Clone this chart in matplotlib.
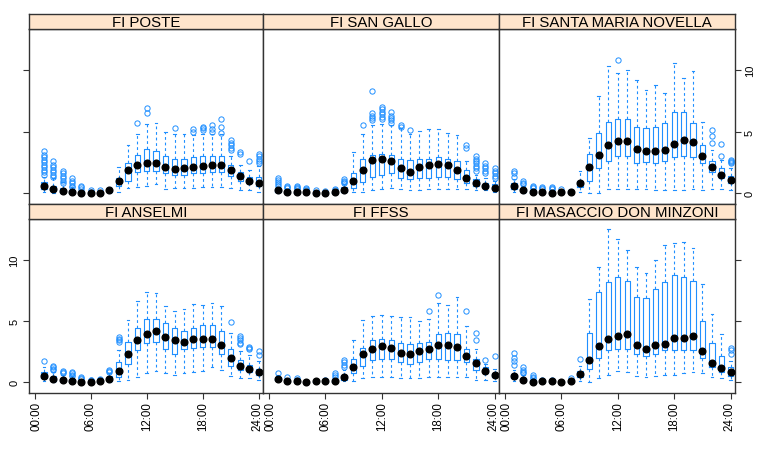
import matplotlib.pyplot as plt
import matplotlib.transforms as mtransforms

plt.rcParams['font.family'] = ['Liberation Sans', 'DejaVu Sans']

hours = list(range(1, 25))
xtick_pos = [0, 6, 12, 18, 24]
xtick_lab = ['00:00', '06:00', '12:00', '18:00', '24:00']
ytick_pos = [0, 5, 10]

names = ['FI POSTE', 'FI SAN GALLO', 'FI SANTA MARIA NOVELLA',
         'FI ANSELMI', 'FI FFSS', 'FI MASACCIO DON MINZONI']

# FI POSTE
poste_med = [0.55, 0.3, 0.18, 0.05, 0.03, 0.02, 0.03, 0.22, 1.0, 1.83, 2.24, 2.4, 2.4, 2.13, 1.97, 2.0, 2.1, 2.2, 2.24, 2.3, 1.83, 1.37, 1.0, 0.8]
poste_q1 = [0.33, 0.12, 0.06, 0.01, 0.0, 0.0, 0.0, 0.1, 0.6, 1.0, 1.7, 1.8, 1.8, 1.6, 1.5, 1.5, 1.6, 1.6, 1.7, 1.7, 1.4, 1.0, 0.8, 0.6]
poste_q3 = [0.93, 0.6, 0.4, 0.2, 0.12, 0.08, 0.1, 0.35, 1.25, 2.4, 3.1, 3.6, 3.4, 3.0, 2.8, 2.8, 2.9, 3.0, 3.0, 3.0, 2.3, 1.7, 1.3, 1.3]
poste_lo = [0.05, 0.0, 0.0, 0.0, 0.0, 0.0, 0.0, 0.0, 0.1, 0.4, 0.5, 0.6, 0.7, 0.3, 0.4, 0.4, 0.4, 0.5, 0.5, 0.5, 0.4, 0.2, 0.2, 0.1]
poste_hi = [1.3, 1.2, 0.9, 0.5, 0.25, 0.15, 0.2, 0.5, 2.1, 3.9, 4.8, 5.6, 5.7, 5.0, 4.8, 4.8, 4.7, 4.8, 4.8, 4.8, 3.0, 2.3, 1.9, 2.2]
poste_out = [[1.5, 1.7, 1.9, 2.1, 2.3, 2.5, 2.7, 2.9, 3.1, 3.4], [1.3, 1.5, 1.7, 1.9, 2.1, 2.3, 2.6],
             [0.8, 1.0, 1.2, 1.4, 1.6, 1.8], [0.45, 0.6, 0.8, 1.0, 1.2], [0.3, 0.45, 0.6], [0.1, 0.2],
             [0.2], [], [], [], [5.7], [6.5, 6.9], [], [], [5.3], [], [5.0, 5.2], [5.1, 5.3, 5.4],
             [5.0, 5.2, 5.5], [4.9, 5.4, 6.0], [3.5, 3.7, 3.9, 4.1, 4.3], [3.2, 3.3], [2.6], [2.4, 2.6, 2.8, 3.0, 3.2]]

# FI SAN GALLO
sg_med = [0.22, 0.1, 0.05, 0.05, 0.03, 0.02, 0.05, 0.25, 1.0, 1.9, 2.7, 2.73, 2.57, 2.0, 1.7, 2.1, 2.24, 2.35, 2.24, 1.83, 1.23, 0.8, 0.6, 0.4]
sg_q1 = [0.1, 0.03, 0.0, 0.0, 0.0, 0.0, 0.0, 0.1, 0.4, 0.9, 1.3, 1.5, 1.6, 1.2, 1.1, 1.2, 1.2, 1.3, 1.3, 1.1, 0.8, 0.6, 0.4, 0.3]
sg_q3 = [0.35, 0.2, 0.12, 0.1, 0.08, 0.06, 0.1, 0.45, 1.6, 2.8, 3.1, 3.2, 3.1, 2.8, 2.7, 2.8, 2.8, 2.9, 2.8, 2.6, 1.9, 1.1, 0.8, 0.7]
sg_lo = [0, 0, 0, 0, 0, 0, 0, 0, 0.1, 0.1, 0.2, 0.3, 0.4, 0.3, 0.2, 0.2, 0.3, 0.3, 0.3, 0.3, 0.3, 0.2, 0.2, 0.1]
sg_hi = [0.5, 0.3, 0.2, 0.15, 0.12, 0.1, 0.15, 0.7, 3.3, 4.8, 5.5, 5.6, 5.5, 5.3, 4.8, 5.05, 5.2, 5.2, 4.9, 4.75, 2.6, 1.5, 1.2, 1.0]
sg_out = [[0.6, 0.75, 0.9, 1.05, 1.2], [0.4, 0.5, 0.6], [0.3, 0.4, 0.5, 0.6], [0.2, 0.3, 0.4], [0.2], [0.15],
          [0.2, 0.3], [0.8, 0.9, 1.0, 1.1], [], [5.5], [5.9, 6.1, 6.3, 6.5, 8.3], [6.0, 6.2, 6.4, 6.6, 6.8, 7.0],
          [5.7, 5.9, 6.1, 6.3, 6.6], [5.4, 5.5], [5.1], [], [], [], [], [], [3.7, 3.9],
          [1.8, 2.0, 2.2, 2.4, 2.6, 2.8, 3.0], [1.6, 1.8, 2.0, 2.2, 2.45], [1.2, 1.4, 1.6, 1.8, 2.0]]

# FI SANTA MARIA NOVELLA
smn_med = [0.55, 0.2, 0.1, 0.05, 0.03, 0.05, 0.1, 0.8, 2.1, 3.05, 3.9, 4.2, 4.2, 3.6, 3.4, 3.45, 3.5, 4.0, 4.3, 4.15, 3.0, 2.1, 1.47, 1.04]
smn_q1 = [0.35, 0.1, 0.03, 0.0, 0.0, 0.0, 0.02, 0.5, 1.0, 2.0, 2.6, 3.0, 3.0, 2.4, 2.5, 2.4, 2.6, 2.9, 3.0, 2.9, 2.4, 1.7, 1.2, 0.8]
smn_q3 = [0.8, 0.35, 0.2, 0.12, 0.1, 0.12, 0.2, 1.0, 3.2, 4.9, 5.8, 6.0, 6.0, 5.4, 5.3, 5.4, 5.7, 6.6, 6.6, 5.7, 3.9, 2.6, 2.0, 1.4]
smn_lo = [0.1, 0, 0, 0, 0, 0, 0, 0.1, 0.0, 0.0, 0.3, 0.3, 0.3, 0.3, 0.3, 0.2, 0.2, 0.2, 0.2, 0.3, 0.2, 0.3, 0.3, 0.2]
smn_hi = [1.1, 0.6, 0.3, 0.2, 0.2, 0.2, 0.3, 1.8, 4.5, 7.9, 10.3, 9.8, 10.0, 9.2, 8.4, 8.8, 8.1, 10.6, 9.4, 9.9, 5.8, 3.5, 2.7, 2.0]
smn_out = [[1.3, 1.6, 1.8], [0.7, 0.85, 1.0], [0.4, 0.5, 0.6], [0.3, 0.4, 0.5], [0.3, 0.4, 0.5], [0.3],
           [], [], [], [], [], [10.8], [], [], [], [], [], [], [], [], [], [4.1, 4.6, 5.1], [3.0, 4.0],
           [2.4, 2.5, 2.6, 2.7]]

# FI ANSELMI
an_med = [0.5, 0.27, 0.15, 0.1, 0.03, 0.03, 0.05, 0.25, 0.9, 2.3, 3.4, 3.96, 4.2, 3.7, 3.4, 3.3, 3.5, 3.55, 3.55, 3.05, 1.94, 1.28, 1.07, 0.8]
an_q1 = [0.3, 0.12, 0.05, 0.02, 0.0, 0.0, 0.0, 0.1, 0.4, 1.5, 2.6, 3.2, 3.3, 2.7, 2.3, 2.7, 2.8, 2.9, 2.9, 2.3, 1.3, 1.0, 0.8, 0.6]
an_q3 = [0.8, 0.5, 0.35, 0.25, 0.1, 0.08, 0.12, 0.5, 1.6, 3.3, 4.4, 5.2, 5.2, 4.8, 4.4, 4.2, 4.4, 4.7, 4.7, 4.2, 2.7, 1.8, 1.4, 1.1]
an_lo = [0.1, 0, 0, 0, 0, 0, 0, 0, 0.05, 0.2, 0.4, 0.7, 0.9, 0.7, 0.6, 0.7, 0.8, 0.9, 1.2, 1.0, 0.5, 0.3, 0.3, 0.2]
an_hi = [1.2, 0.8, 0.6, 0.5, 0.2, 0.15, 0.2, 0.7, 2.6, 5.1, 6.6, 7.4, 7.3, 6.2, 5.8, 6.0, 6.4, 6.3, 6.5, 6.2, 4.0, 2.5, 2.2, 1.7]
an_out = [[1.7], [1.0, 1.1, 1.2, 1.3], [0.7, 0.8, 0.9], [0.5, 0.6, 0.7, 0.8], [0.25, 0.35, 0.45], [0.15, 0.2],
          [0.2, 0.25], [0.8, 0.9, 1.0], [3.3, 3.4, 3.5, 3.7], [], [], [], [], [], [], [], [], [], [], [],
          [4.9], [3.1, 3.2, 3.4, 3.6, 3.8], [2.7, 2.8, 2.9], [2.2, 2.5]]

# FI FFSS
ff_med = [0.27, 0.1, 0.05, 0.03, 0.05, 0.05, 0.12, 0.4, 1.2, 2.27, 2.73, 2.95, 2.8, 2.4, 2.3, 2.5, 2.73, 3.06, 3.0, 2.87, 2.13, 1.56, 0.93, 0.55]
ff_q1 = [0.15, 0.03, 0.0, 0.0, 0.0, 0.0, 0.03, 0.2, 0.7, 1.3, 1.8, 1.9, 1.9, 1.6, 1.5, 1.6, 1.9, 1.9, 1.8, 1.8, 1.6, 1.0, 0.7, 0.4]
ff_q3 = [0.4, 0.2, 0.12, 0.1, 0.12, 0.12, 0.25, 0.6, 1.9, 2.8, 3.4, 3.5, 3.4, 3.2, 3.1, 3.2, 3.3, 3.9, 4.0, 3.9, 2.7, 1.9, 1.2, 0.7]
ff_lo = [0.05, 0, 0, 0, 0, 0, 0, 0.05, 0.1, 0.3, 0.4, 0.4, 0.4, 0.3, 0.3, 0.3, 0.4, 0.4, 0.4, 0.4, 0.4, 0.2, 0.2, 0.1]
ff_hi = [0.55, 0.3, 0.2, 0.15, 0.2, 0.2, 0.35, 1.0, 3.4, 5.1, 5.4, 5.5, 5.4, 5.3, 5.3, 5.0, 5.2, 6.5, 6.3, 7.0, 4.6, 2.7, 1.5, 1.1]
ff_out = [[0.7], [0.4], [0.2, 0.3], [], [], [0.15], [0.4, 0.55, 0.7], [1.2, 1.4, 1.6, 1.8], [], [], [], [], [],
          [], [], [], [5.8], [7.1], [], [], [5.8], [3.4, 4.0], [1.8], [2.1]]

# FI MASACCIO DON MINZONI
ma_med = [0.46, 0.16, 0.0, 0.05, 0.05, 0.02, 0.1, 0.63, 1.83, 2.95, 3.5, 3.8, 3.96, 3.0, 2.7, 3.0, 3.1, 3.63, 3.58, 3.77, 2.54, 1.58, 1.12, 0.85]
ma_q1 = [0.3, 0.05, 0, 0, 0, 0, 0.02, 0.4, 1.1, 2.0, 2.6, 2.7, 2.7, 2.3, 2.1, 2.3, 2.6, 2.6, 2.6, 2.6, 2.0, 1.2, 0.8, 0.5]
ma_q3 = [0.65, 0.35, 0.15, 0.1, 0.1, 0.08, 0.2, 0.9, 4.0, 7.4, 8.2, 8.6, 8.3, 7.0, 6.9, 7.6, 8.2, 8.8, 8.6, 8.3, 5.0, 3.2, 2.1, 1.2]
ma_lo = [0.1, 0, 0, 0, 0, 0, 0, 0.1, 0.0, 0.3, 0.6, 0.9, 0.8, 0.5, 0.4, 0.5, 0.6, 0.6, 0.7, 0.8, 0.7, 0.4, 0.3, 0.2]
ma_hi = [1.0, 0.6, 0.3, 0.2, 0.2, 0.1, 0.3, 1.3, 6.8, 9.4, 12.5, 11.7, 10.8, 9.4, 8.9, 10.0, 11.2, 11.4, 11.5, 11.0, 8.0, 5.6, 3.9, 1.7]
ma_out = [[1.4, 1.7, 2.0, 2.4], [0.7, 0.85, 1.0, 1.2], [0.3, 0.45, 0.6], [0.2], [0.2], [], [0.3], [1.9], [], [],
          [], [], [], [], [], [], [], [], [], [], [], [], [], [2.3, 2.6, 2.8]]

data = [
    (poste_med, poste_q1, poste_q3, poste_lo, poste_hi, poste_out),
    (sg_med, sg_q1, sg_q3, sg_lo, sg_hi, sg_out),
    (smn_med, smn_q1, smn_q3, smn_lo, smn_hi, smn_out),
    (an_med, an_q1, an_q3, an_lo, an_hi, an_out),
    (ff_med, ff_q1, ff_q3, ff_lo, ff_hi, ff_out),
    (ma_med, ma_q1, ma_q3, ma_lo, ma_hi, ma_out),
]

blue = '#1f8fff'
frame_col = '#333333'
W, H = 761, 456
col_x = [(29, 263), (263, 499), (499, 735)]
row_y = [(30, 205), (220, 394)]   # plot area (top, bottom) in pixels
strip_h = 15

fig = plt.figure(figsize=(W / 100, H / 100), dpi=100)

for i, (name, d) in enumerate(zip(names, data)):
    r, c = divmod(i, 3)
    x0, x1 = col_x[c]
    y0, y1 = row_y[r]
    ax = fig.add_axes([x0 / W, 1 - y1 / H, (x1 - x0) / W, (y1 - y0) / H])
    med, q1, q3, lo, hi, out = d
    stats = [dict(med=m, q1=a, q3=b, whislo=l, whishi=h, fliers=o)
             for m, a, b, l, h, o in zip(med, q1, q3, lo, hi, out)]
    ax.bxp(stats, positions=hours, widths=0.55, capwidths=0.3, showfliers=True,
           boxprops=dict(color=blue, lw=0.8),
           whiskerprops=dict(color=blue, lw=0.8, ls=(0, (2.5, 2.5))),
           capprops=dict(color=blue, lw=0.8),
           medianprops=dict(lw=0),
           flierprops=dict(marker='o', mfc='none', mec=blue, ms=3.8, mew=0.7),
           manage_ticks=False)
    ax.plot(hours, med, 'o', color='black', ms=4.8, zorder=5)
    ax.set_xlim(-0.6, 24.45)
    ax.set_ylim(-0.9, 13.35)
    for s in ax.spines.values():
        s.set_color(frame_col)
        s.set_linewidth(1)

    ax.set_yticks(ytick_pos)
    ax.set_yticklabels([str(v) for v in ytick_pos], rotation=90, va='center', fontsize=8)
    if c == 0:
        ax.tick_params(axis='y', left=True, right=False, labelleft=(r == 1), labelright=False,
                       length=4, color=frame_col, pad=3)
    elif c == 2:
        ax.tick_params(axis='y', left=False, right=True, labelleft=False, labelright=(r == 0),
                       length=4, color=frame_col, pad=3)
    else:
        ax.tick_params(axis='y', left=False, right=False, labelleft=False, labelright=False)

    ax.set_xticks(xtick_pos)
    ax.set_xticklabels(xtick_lab, rotation=90, fontsize=8.3)
    if r == 1:
        ax.tick_params(axis='x', bottom=True, labelbottom=True, length=4, color=frame_col, pad=2)
        # nudge edge labels apart so the 24:00 / 00:00 pairs don't collide
        labs = ax.get_xticklabels()
        labs[0].set_transform(labs[0].get_transform() +
                              mtransforms.ScaledTranslation(1.5 / 100, 0, fig.dpi_scale_trans))
        labs[-1].set_transform(labs[-1].get_transform() +
                               mtransforms.ScaledTranslation(-1.5 / 100, 0, fig.dpi_scale_trans))
    else:
        ax.tick_params(axis='x', bottom=False, labelbottom=False)

    sx = fig.add_axes([x0 / W, 1 - y0 / H, (x1 - x0) / W, strip_h / H])
    sx.set_facecolor('#ffe5cc')
    sx.set_xticks([])
    sx.set_yticks([])
    for s in sx.spines.values():
        s.set_color(frame_col)
        s.set_linewidth(1)
    sx.text(0.5, 0.45, name, ha='center', va='center', fontsize=10.8, transform=sx.transAxes)

fig.savefig('out.png', dpi=100, facecolor='white')
